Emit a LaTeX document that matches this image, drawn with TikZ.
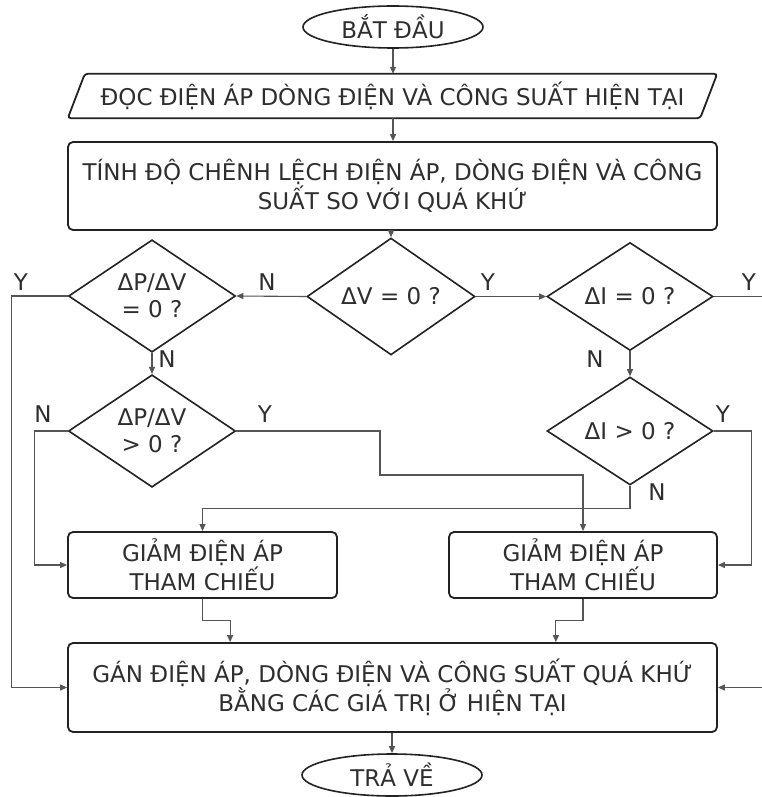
\documentclass[tikz,border=0pt]{standalone}
\usepackage{fontspec}
\setmainfont{DejaVu Sans}
\usetikzlibrary{shapes.geometric,arrows.meta}
\definecolor{boxline}{HTML}{222222}
\definecolor{txt}{HTML}{2E2E2E}
\definecolor{conline}{HTML}{555555}
\begin{document}
\begin{tikzpicture}[x=1pt,y=-1pt,
  every node/.style={text=txt,font=\fontsize{23}{26.5}\selectfont},
  term/.style={ellipse,draw=boxline,line width=1.6pt,minimum width=180pt,minimum height=42pt,inner sep=0pt},
  procbox/.style={rectangle,rounded corners=5pt,draw=boxline,line width=1.8pt,inner sep=0pt,align=center},
  decision/.style={diamond,draw=boxline,line width=1.6pt,inner sep=0pt,align=center},
  conn/.style={draw=conline,line width=1.1pt,-{Triangle[length=7pt,width=6pt]}},
  lbl/.style={inner sep=0pt}
]
\useasboundingbox (0,0) rectangle (762,797);

% terminals
\node[term] (start) at (393,27) {BẮT ĐẦU};
\node[term] (end) at (392,775) {TRẢ VỀ};

% input parallelogram
\node[rectangle,inner sep=0pt,minimum width=649pt,minimum height=44pt] (read) at (392.5,96) {ĐỌC ĐIỆN ÁP DÒNG ĐIỆN VÀ CÔNG SUẤT HIỆN TẠI};
\draw[draw=boxline,line width=1.8pt,rounded corners=3pt]
  ([xshift=17pt]read.north west) -- (read.north east) -- ([xshift=-17pt]read.south east) -- (read.south west) -- cycle;

% process boxes
\node[procbox,minimum width=649pt,minimum height=88pt] (calc) at (392.5,186)
  {TÍNH ĐỘ CHÊNH LỆCH ĐIỆN ÁP, DÒNG ĐIỆN VÀ CÔNG\\SUẤT SO VỚI QUÁ KHỨ};
\node[procbox,minimum width=269pt,minimum height=66pt] (g1) at (202.5,565) {GIẢM ĐIỆN ÁP\\THAM CHIẾU};
\node[procbox,minimum width=268pt,minimum height=66pt] (g2) at (583,565) {GIẢM ĐIỆN ÁP\\THAM CHIẾU};
\node[procbox,minimum width=649pt,minimum height=89pt] (gan) at (392.5,687.5)
  {GÁN ĐIỆN ÁP, DÒNG ĐIỆN VÀ CÔNG SUẤT QUÁ KHỨ\\BẰNG CÁC GIÁ TRỊ Ở HIỆN TẠI};

% decisions
\node[decision,minimum width=168pt,minimum height=87pt] (dV) at (391,296.5) {ΔV = 0 ?};
\node[decision,minimum width=167pt,minimum height=88pt] (dP0) at (152,296) {ΔP/ΔV\\= 0 ?};
\node[decision,minimum width=166pt,minimum height=87pt] (dI0) at (630,296.5) {ΔI = 0 ?};
\node[decision,minimum width=167pt,minimum height=88pt] (dPg) at (152,431) {ΔP/ΔV\\> 0 ?};
\node[decision,minimum width=166pt,minimum height=88pt] (dIg) at (630,431) {ΔI > 0 ?};

% main spine
\draw[conn] (start) -- (read.north -| start);
\draw[conn] (read.south -| start) -- (calc.north -| start);
\draw[conn] (calc.south -| dV) -- (dV.north);
\draw[conn] (gan.south -| end) -- (end.north);

% first row
\draw[conn] (dV.west) -- (dP0.east);
\draw[conn] (dV.east) -- (dI0.west);
\draw[conn] (dP0.south) -- (dPg.north);
\draw[conn] (dI0.south) -- (dIg.north);

% Y of dP0 -> gan
\draw[conn] (dP0.west) -- ++(-56,0) |- (gan.west);
% N of dPg -> g1
\draw[conn] (dPg.west) -- ++(-33,0) |- (g1.west);
% Y of dPg -> g2
\coordinate (k1) at (380,475);
\draw[conn] (dPg.east) -| (k1) -| (g2.north);
% N of dIg -> g1
\draw[conn] (dIg.south) -- ++(0,23) -| (g1.north);
% Y of dIg -> g2
\draw[conn] (dIg.east) -- ++(38,0) |- (g2.east);
% Y of dI0 -> gan (route runs past the page edge)
\draw[conn] (dI0.east) -- (772,296.5) |- (gan.east);

% process boxes -> gan
\draw[conn] (g1.south) -- ++(0,22) -| ([xshift=163pt]gan.north west);
\draw[conn] (g2.south) -- ++(0,22) -| ([xshift=-162pt]gan.north east);

% labels
\node[lbl] (lN1) at (267,282) {N};
\node[lbl] (lY1) at (488,282) {Y};
\node[lbl] (lY2) at (21,282) {Y};
\node[lbl] (lY3) at (749,282) {Y};
\node[lbl] (lN2) at (167,359) {N};
\node[lbl] (lN3) at (595,359) {N};
\node[lbl] (lN4) at (43,414) {N};
\node[lbl] (lY4) at (265,414) {Y};
\node[lbl] (lY5) at (723,414) {Y};
\node[lbl] (lN5) at (657,492) {N};
\end{tikzpicture}
\end{document}
